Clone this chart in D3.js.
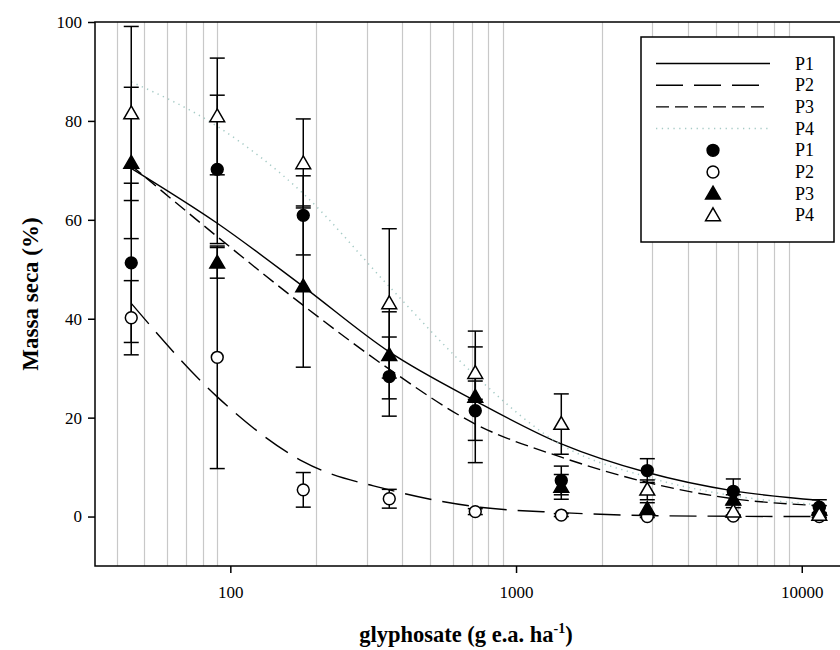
<!DOCTYPE html>
<html>
<head>
<meta charset="utf-8">
<script src="https://cdn.jsdelivr.net/npm/d3@7"></script>
<style>
  html, body { margin: 0; padding: 0; background: #fff; }
  svg { display: block; }
  text { font-family: "Liberation Serif", "Times New Roman", serif; fill: #000; }
</style>
</head>
<body>
<script>
// Glyphosate doses (g e.a. ha-1)
const doses = [45, 90, 180, 360, 720, 1440, 2880, 5760, 11520];

// Observed dry mass (%) and error bars per population
const meanP1 = [51.3, 70.2, 60.9, 28.3, 21.4, 7.3, 9.3, 5.1, 1.9];
const errP1  = [16.1, 15.0, 8.0, 8.0, 6.0, 2.9, 2.4, 2.5, 1.5];
const meanP2 = [40.2, 32.2, 5.4, 3.6, 1.0, 0.3, 0.0, 0.1, 0.0];
const errP2  = [7.5, 22.5, 3.5, 1.9, 0.6, 0.3, 0.2, 0.2, 0.2];
const meanP3 = [71.5, 51.3, 46.5, 32.6, 24.2, 6.0, 1.5, 3.4, 1.4];
const errP3  = [15.3, 3.1, 16.3, 8.8, 13.3, 2.5, 1.3, 1.0, 0.8];
const meanP4 = [81.5, 80.9, 71.4, 43.1, 29.0, 18.7, 5.4, 1.0, 0.3];
const errP4  = [17.6, 11.8, 9.0, 15.1, 5.3, 6.1, 2.0, 0.8, 0.5];

// Fitted dose-response curves, sampled at each dose
const fitP1 = [70.4, 59.3, 46.5, 33.3, 23.4, 14.7, 8.9, 5.2, 3.3];
const fitP2 = [43.1, 24.2, 11.1, 5.4, 2.0, 0.8, 0.2, 0.05, 0.0];
const fitP3 = [71.0, 56.6, 42.7, 29.8, 18.7, 12.0, 6.9, 3.6, 2.2];
const fitP4 = [87.9, 78.9, 65.3, 46.5, 28.5, 14.5, 8.0, 4.2, 2.4];

const yTicks = [0, 20, 40, 60, 80, 100];
const xTicks = [100, 1000, 10000];
const gridValues = [40, 50, 60, 70, 80, 90, 200, 300, 400, 500, 600, 700, 800, 900,
                    2000, 3000, 4000, 5000, 6000, 7000, 8000, 9000];
const seriesNames = ["P1", "P2", "P3", "P4"];

const W = 840, H = 650;
const mLeft = 95, mRight = 841, mTop = 22, mBottom = 566;

const svg = d3.select("body").append("svg").attr("width", W).attr("height", H);

const x = d3.scaleLog().domain([33.6, 13720]).range([mLeft, mRight]);
const y = d3.scaleLinear().domain([-10, 100]).range([mBottom, mTop]);

// vertical grid lines
svg.append("g").selectAll("line").data(gridValues).join("line")
  .attr("x1", d => Math.round(x(d)) + 0.5).attr("x2", d => Math.round(x(d)) + 0.5)
  .attr("y1", mTop).attr("y2", mBottom)
  .attr("stroke", "#c8c8c8").attr("stroke-width", 1.2);

// axes
const yAxis = d3.axisLeft(y).tickValues(yTicks).tickSize(7).tickPadding(6).tickFormat(d3.format("d"));
const gy = svg.append("g").attr("transform", `translate(${mLeft},0)`).call(yAxis);
const xAxis = d3.axisBottom(x).tickValues(xTicks).tickSize(7).tickPadding(13).tickFormat(d3.format("d"));
const gx = svg.append("g").attr("transform", `translate(0,${mBottom})`).call(xAxis);
[gy, gx].forEach(g => {
  g.select(".domain").remove();
  g.selectAll(".tick line").attr("stroke", "#000").attr("stroke-width", 1.5);
  g.selectAll(".tick text").attr("font-family", "Liberation Serif").attr("font-size", 17).attr("fill", "#000");
});

// frame
svg.append("path")
  .attr("d", `M${mRight},${mTop}H${mLeft}V${mBottom}H${mRight}`)
  .attr("fill", "none").attr("stroke", "#000").attr("stroke-width", 1.5);

// fitted curves
const curveStyles = [
  { data: fitP1, color: "#000", dash: null, width: 1.4 },
  { data: fitP2, color: "#000", dash: "27,11", width: 1.4 },
  { data: fitP3, color: "#000", dash: "13,6", width: 1.4 },
  { data: fitP4, color: "#a6cbc6", dash: "1.3,4.5", width: 1.5 }
];
const line = d3.line()
  .x((d, i) => x(doses[i]))
  .y(d => y(d))
  .curve(d3.curveMonotoneX);
curveStyles.forEach(c => {
  svg.append("path").datum(c.data)
    .attr("d", line)
    .attr("fill", "none")
    .attr("stroke", c.color)
    .attr("stroke-width", c.width)
    .attr("stroke-dasharray", c.dash);
});

// error bars
const series = [
  { mean: meanP1, err: errP1, shape: "circle", fill: "#000" },
  { mean: meanP2, err: errP2, shape: "circle", fill: "#fff" },
  { mean: meanP3, err: errP3, shape: "triangle", fill: "#000" },
  { mean: meanP4, err: errP4, shape: "triangle", fill: "#fff" }
];
const capHalf = 7.5;
const gErr = svg.append("g").attr("stroke", "#000").attr("stroke-width", 1.5);
series.forEach(s => {
  s.mean.forEach((m, i) => {
    const cx = x(doses[i]);
    const yt = y(m + s.err[i]), yb = y(m - s.err[i]);
    gErr.append("line").attr("x1", cx).attr("x2", cx).attr("y1", yt).attr("y2", yb);
    gErr.append("line").attr("x1", cx - capHalf).attr("x2", cx + capHalf).attr("y1", yt).attr("y2", yt);
    gErr.append("line").attr("x1", cx - capHalf).attr("x2", cx + capHalf).attr("y1", yb).attr("y2", yb);
  });
});

// markers
const circleSym = d3.symbol().type(d3.symbolCircle).size(110);
const triSym = d3.symbol().type(d3.symbolTriangle).size(95);
function drawMarker(g, shape, fill, cx, cy) {
  const gen = shape === "circle" ? circleSym : triSym;
  const dy = shape === "triangle" ? 1 : 0;
  g.append("path")
    .attr("d", gen())
    .attr("transform", `translate(${cx},${cy + dy})`)
    .attr("fill", fill)
    .attr("stroke", "#000")
    .attr("stroke-width", 1.5);
}
const gMarks = svg.append("g");
series.forEach(s => {
  s.mean.forEach((m, i) => drawMarker(gMarks, s.shape, s.fill, x(doses[i]), y(m)));
});

// legend
const lg = svg.append("g");
lg.append("rect").attr("x", 641).attr("y", 37).attr("width", 193).attr("height", 205)
  .attr("fill", "#fff").attr("stroke", "#000").attr("stroke-width", 1.5);
const rowY = i => 63.5 + i * 21.7;
curveStyles.forEach((c, i) => {
  lg.append("line").attr("x1", 656).attr("x2", 770).attr("y1", rowY(i)).attr("y2", rowY(i))
    .attr("stroke", c.color).attr("stroke-width", c.width).attr("stroke-dasharray", c.dash);
  lg.append("text").attr("x", 795).attr("y", rowY(i) + 6).attr("font-size", 18).text(seriesNames[i]);
});
series.forEach((s, i) => {
  const r = rowY(i + 4);
  drawMarker(lg, s.shape, s.fill, 713, r);
  lg.append("text").attr("x", 795).attr("y", r + 6).attr("font-size", 18).text(seriesNames[i]);
});

// axis titles
svg.append("text")
  .attr("transform", `translate(38,${(mTop + mBottom) / 2}) rotate(-90)`)
  .attr("text-anchor", "middle")
  .attr("font-size", 23).attr("font-weight", "bold")
  .text("Massa seca (%)");

const xt = svg.append("text")
  .attr("x", 466).attr("y", 642)
  .attr("text-anchor", "middle")
  .attr("font-size", 22.5).attr("font-weight", "bold");
xt.append("tspan").text("glyphosate (g e.a. ha");
xt.append("tspan").attr("font-size", 14).attr("dy", -9).text("-1");
xt.append("tspan").attr("dy", 9).text(")");
</script>
</body>
</html>
